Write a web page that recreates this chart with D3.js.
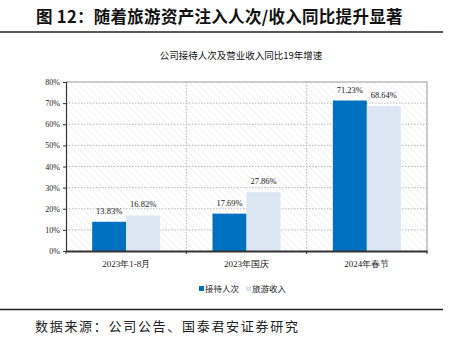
<!DOCTYPE html>
<html><head><meta charset="utf-8">
<script src="https://cdn.jsdelivr.net/npm/d3@7"></script>
<style>body{margin:0;background:#fff}svg{display:block}</style>
</head><body>
<script>
const categories = ["2023年1-8月", "2023年国庆", "2024年春节"];
const seriesNames = ["接待人次", "旅游收入"];
const visitors = [13.83, 17.69, 71.23];
const revenue = [16.82, 27.86, 68.64];
const yTicks = [0, 10, 20, 30, 40, 50, 60, 70, 80];
const colors = ["#0070C0", "#DCE6F2"];

const W = 449, H = 338;
const svg = d3.select("body").append("svg").attr("width", W).attr("height", H);
const serif = "'Liberation Serif','Times New Roman',serif";
const cjk = "'Noto Sans CJK SC',sans-serif";

// title
svg.append("text").attr("x", 36).attr("y", 23).attr("font-family", cjk).attr("font-weight", "bold")
  .attr("font-size", 16.5).attr("letter-spacing", 0.3).attr("fill", "#111").text("图 12：随着旅游资产注入人次/收入同比提升显著");
svg.append("line").attr("x1", 0).attr("x2", 443).attr("y1", 32).attr("y2", 32).attr("stroke", "#222").attr("stroke-width", 1.5);

svg.append("text").attr("x", 241).attr("y", 59).attr("text-anchor", "middle").attr("font-family", cjk)
  .attr("font-size", 9.5).attr("fill", "#111").text("公司接待人次及营业收入同比19年增速");

const m = {l: 66, r: 427, t: 82, b: 251};
const x = d3.scaleBand().domain(categories).range([m.l, m.r]);
const y = d3.scaleLinear().domain([0, 80]).range([m.b, m.t]);

// hatch pattern
const defs = svg.append("defs");
const pat = defs.append("pattern").attr("id", "hatch").attr("patternUnits", "userSpaceOnUse")
  .attr("width", 5).attr("height", 5).attr("patternTransform", "rotate(-45)");
pat.append("rect").attr("width", 5).attr("height", 5).attr("fill", "#fff");
pat.append("line").attr("x1", 0).attr("y1", 0).attr("x2", 0).attr("y2", 5).attr("stroke", "#e6e6e6").attr("stroke-width", 1);

svg.append("rect").attr("x", m.l).attr("y", m.t).attr("width", m.r - m.l).attr("height", m.b - m.t).attr("fill", "url(#hatch)");

// grid
svg.append("g").selectAll("line").data(yTicks.filter(d => d > 0 && d < 80)).join("line")
  .attr("x1", m.l).attr("x2", m.r).attr("y1", d => y(d)).attr("y2", d => y(d))
  .attr("stroke", "#aaa").attr("stroke-width", 0.8).attr("stroke-dasharray", "1.5,1.5");
svg.append("g").selectAll("line").data(categories.slice(1)).join("line")
  .attr("x1", d => x(d)).attr("x2", d => x(d)).attr("y1", m.t).attr("y2", m.b)
  .attr("stroke", "#aaa").attr("stroke-width", 0.8).attr("stroke-dasharray", "1.5,1.5");

// border top/right
svg.append("path").attr("d", `M${m.l},${m.t}H${m.r}V${m.b}`).attr("fill", "none").attr("stroke", "#999").attr("stroke-width", 1);

// bars
const x1 = d3.scaleBand().domain([0, 1]).range([0, x.bandwidth()]).paddingOuter(0.77);
const data = [visitors, revenue];
data.forEach((vals, si) => {
  const g = svg.append("g");
  g.selectAll("rect").data(vals).join("rect")
    .attr("x", (d, i) => x(categories[i]) + x1(si))
    .attr("width", x1.bandwidth())
    .attr("y", d => y(d)).attr("height", d => y(0) - y(d))
    .attr("fill", colors[si]);
  g.selectAll("text").data(vals).join("text")
    .attr("x", (d, i) => x(categories[i]) + x1(si) + x1.bandwidth() / 2)
    .attr("y", d => y(d) - 8)
    .attr("text-anchor", "middle").attr("font-family", serif).attr("font-size", 8.5).attr("fill", "#222")
    .text(d => d.toFixed(2) + "%");
});

// y axis
const ya = svg.append("g").attr("transform", `translate(${m.l},0)`)
  .call(d3.axisLeft(y).tickValues(yTicks).tickSize(3).tickFormat(d => d + "%"));
ya.select(".domain").attr("stroke", "#333").attr("stroke-width", 1.2);
ya.selectAll(".tick line").attr("stroke", "#333");
ya.selectAll("text").attr("font-family", serif).attr("font-size", 8).attr("fill", "#222").attr("x", -6);

// x axis
const xa = svg.append("g").attr("transform", `translate(0,${m.b})`)
  .call(d3.axisBottom(x).tickSize(0).tickPadding(10));
xa.select(".domain").attr("stroke", "#333").attr("stroke-width", 2);
xa.selectAll("text").attr("font-family", serif).attr("font-size", 9).attr("fill", "#222");
svg.append("g").selectAll("line").data([m.l, ...categories.slice(1).map(c => x(c)), m.r]).join("line")
  .attr("x1", d => d).attr("x2", d => d).attr("y1", m.b).attr("y2", m.b + 3).attr("stroke", "#333");

// legend
const leg = svg.append("g");
const lx = [199, 246];
seriesNames.forEach((n, i) => {
  leg.append("rect").attr("x", lx[i]).attr("y", 286).attr("width", 5).attr("height", 5).attr("fill", colors[i]);
  leg.append("text").attr("x", lx[i] + 6).attr("y", 292).attr("font-family", cjk).attr("font-size", 8.5).attr("fill", "#222").text(n);
});

svg.append("line").attr("x1", 0).attr("x2", 443).attr("y1", 309.5).attr("y2", 309.5).attr("stroke", "#222").attr("stroke-width", 1.5);
svg.append("text").attr("x", 35).attr("y", 331).attr("font-family", cjk).attr("font-size", 13).attr("letter-spacing", 1.7).attr("fill", "#222")
  .text("数据来源：公司公告、国泰君安证券研究");
</script>
</body></html>
